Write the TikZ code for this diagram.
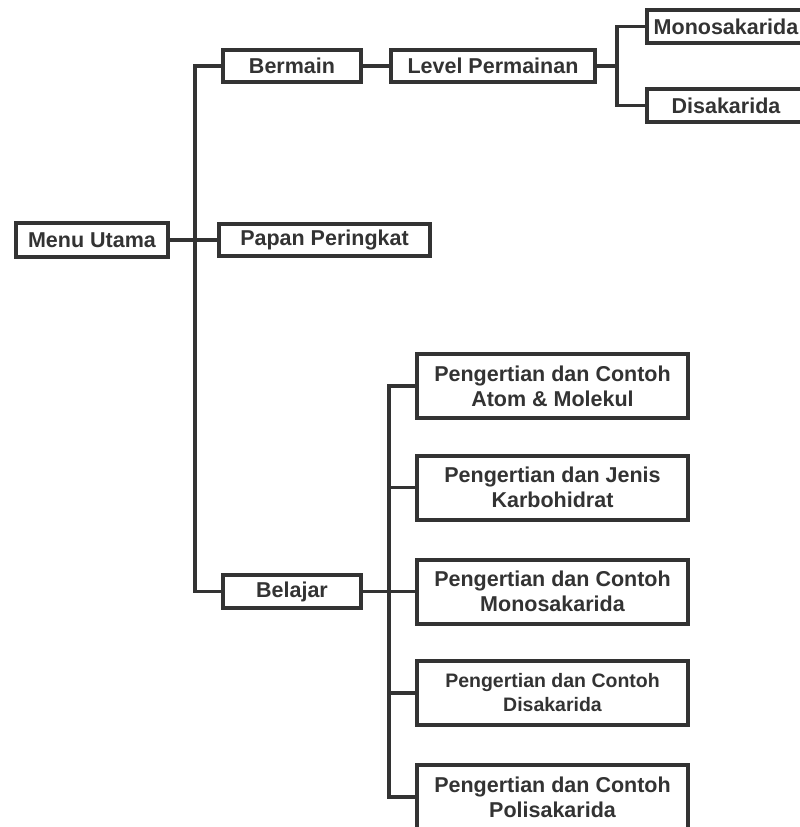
\documentclass[tikz,border=0pt]{standalone}
\usepackage{fontspec}
\setmainfont{Liberation Sans}
\usepackage{tikz}
\usetikzlibrary{positioning}
\definecolor{ink}{HTML}{333333}

\begin{document}
\begin{tikzpicture}[x=1pt,y=-1pt,
      box/.style={draw=ink,line width=4pt,fill=white,text=ink,inner sep=0pt,
        align=center,font=\bfseries\fontsize{21.5}{25}\selectfont},
      child/.style={box,minimum width=271pt,minimum height=64pt},
      conn/.style={draw=ink,line width=3.5pt}]
      \clip (0,0) rectangle (800,827);
      \node[box,minimum width=152pt,minimum height=34pt] (menu) at (92,240) {Menu Utama};
      \node[box,minimum width=138pt,minimum height=32pt] (bermain) at (292,66) {Bermain};
      \node[box,minimum width=211pt,minimum height=32pt] (papan) at (324.5,240) {Papan Peringkat};
      \node[box,minimum width=138pt,minimum height=33pt] (belajar) at (292,591.5) {Belajar};
      \node[box,minimum width=204pt,minimum height=32pt] (level) at (493,66) {Level Permainan};
      \node[box,minimum width=158pt,minimum height=33pt] (mono) at (726,26.5) {Monosakarida};
      \node[box,minimum width=158pt,minimum height=33pt] (disa) at (726,105.5) {Disakarida};
      \node[child] (c1) at (552.5,386) {Pengertian dan Contoh\\Atom \& Molekul};
      \node[child] (c2) at (552.5,487.5) {Pengertian dan Jenis\\Karbohidrat};
      \node[child] (c3) at (552.5,591.5) {Pengertian dan Contoh\\Monosakarida};
      \node[child,font=\bfseries\fontsize{19.5}{24}\selectfont] (c4) at (552.5,693) {Pengertian dan Contoh\\Disakarida};
      \node[child] (c5) at (552.5,797) {Pengertian dan Contoh\\Polisakarida};
      \coordinate (tr) at (195,240);
      \coordinate (lv) at (617,66);
      \coordinate (bl) at (389,591.5);
      \draw[conn] (menu) -- (papan);
      \draw[conn] (bermain.west) -| (tr) |- (belajar.west);
      \draw[conn] (bermain) -- (level);
      \draw[conn] (level.east) -- (lv);
      \draw[conn] (mono.west) -| (lv) |- (disa.west);
      \draw[conn] (belajar) -- (c3);
      \draw[conn] (c1.west) -| (bl) |- (c5.west);
      \foreach \i in {2,4}
        \draw[conn] (c\i.west) -- (c\i.west -| bl);
    \end{tikzpicture}
\end{document}
